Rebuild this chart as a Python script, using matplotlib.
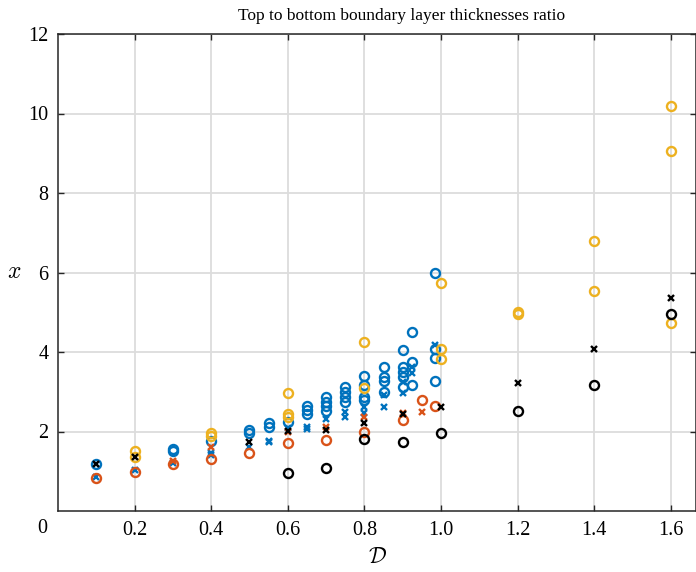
import matplotlib
matplotlib.use('Agg')
import matplotlib.pyplot as plt

# D values and thickness ratios for each run family
blue_o_x = [0.1, 0.3, 0.3, 0.4, 0.5, 0.5, 0.55, 0.55, 0.6,
            0.65, 0.65, 0.65, 0.7, 0.7, 0.7, 0.7, 0.75, 0.75, 0.75, 0.75,
            0.8, 0.8, 0.8, 0.8, 0.85, 0.85, 0.85, 0.85,
            0.9, 0.9, 0.9, 0.9, 0.9, 0.925, 0.925, 0.925,
            0.985, 0.985, 0.985, 0.985]
blue_o_y = [1.17, 1.56, 1.50, 1.76, 2.05, 1.96, 2.22, 2.12, 2.25,
            2.64, 2.54, 2.44, 2.88, 2.75, 2.64, 2.52, 3.11, 3.00, 2.88, 2.75,
            3.40, 3.17, 2.88, 2.78, 3.63, 3.38, 3.27, 3.00,
            4.05, 3.63, 3.50, 3.38, 3.13, 4.51, 3.74, 3.17,
            5.98, 4.08, 3.84, 3.28]

blue_x_x = [0.1, 0.1, 0.2, 0.3, 0.4, 0.4, 0.5, 0.55, 0.55, 0.6, 0.65, 0.65,
            0.7, 0.75, 0.75, 0.8, 0.8, 0.85, 0.85, 0.9, 0.9, 0.925, 0.925, 0.985]
blue_x_y = [1.17, 0.86, 1.02, 1.22, 1.46, 1.40, 1.62, 1.77, 1.74, 2.08, 2.12, 2.06,
            2.31, 2.50, 2.36, 2.62, 2.47, 2.92, 2.62, 3.25, 2.98, 3.63, 3.46, 4.18]

red_o_x = [0.1, 0.2, 0.3, 0.4, 0.5, 0.6, 0.7, 0.8, 0.9, 0.95, 0.985]
red_o_y = [0.84, 0.98, 1.17, 1.31, 1.47, 1.72, 1.79, 1.99, 2.29, 2.78, 2.65]

red_x_x = [0.3, 0.4, 0.6, 0.7, 0.8, 0.9, 0.95]
red_x_y = [1.27, 1.62, 2.00, 2.12, 2.37, 2.47, 2.50]

yel_o_x = [0.2, 0.2, 0.4, 0.4, 0.6, 0.6, 0.6, 0.8, 0.8,
           1.0, 1.0, 1.0, 1.2, 1.2, 1.4, 1.4, 1.6, 1.6, 1.6]
yel_o_y = [1.52, 1.35, 1.97, 1.89, 2.97, 2.44, 2.36, 4.26, 3.09,
           5.73, 4.08, 3.82, 5.01, 4.96, 6.79, 5.53, 10.19, 9.05, 4.74]

blk_x_x = [0.1, 0.2, 0.5, 0.6, 0.7, 0.8, 0.9, 1.0, 1.2, 1.4, 1.6]
blk_x_y = [1.17, 1.35, 1.74, 2.01, 2.05, 2.22, 2.43, 2.62, 3.23, 4.08, 5.36]

blk_o_x = [0.6, 0.7, 0.8, 0.9, 1.0, 1.2, 1.4, 1.6]
blk_o_y = [0.96, 1.07, 1.80, 1.74, 1.95, 2.52, 3.16, 4.96]

xticks = [0.2, 0.4, 0.6, 0.8, 1.0, 1.2, 1.4, 1.6]
yticks = [2, 4, 6, 8, 10, 12]

plt.rcParams['font.family'] = ['Liberation Serif', 'DejaVu Serif']
plt.rcParams['mathtext.fontset'] = 'cm'

fig = plt.figure(figsize=(6.96, 5.72), dpi=100)
ax = fig.add_axes([58 / 696, 61 / 572, 1 - 58 / 696, 477 / 572])

blue = '#0072BD'
red = '#D95319'
yellow = '#EDB120'

ring = dict(linestyle='none', marker='o', markersize=6.5, markerfacecolor='none',
            markeredgewidth=1.7)
cross = dict(linestyle='none', marker='x', markersize=4.4, markeredgewidth=1.7)

ax.plot(blue_o_x, blue_o_y, markeredgecolor=blue, **ring)
ax.plot(blue_x_x, blue_x_y, color=blue, **cross)
ax.plot(red_o_x, red_o_y, markeredgecolor=red, **ring)
ax.plot(red_x_x, red_x_y, color=red, **cross)
ax.plot(yel_o_x, yel_o_y, markeredgecolor=yellow, **ring)
ax.plot(blk_x_x, blk_x_y, color='black', **cross)
ax.plot(blk_o_x, blk_o_y, markeredgecolor='black', **ring)

ax.set_xlim(0, 1.666)
ax.set_ylim(0, 12)
ax.set_xticks(xticks)
ax.set_xticklabels([f'{t:.1f}' for t in xticks])
ax.set_yticks(yticks)
ax.tick_params(direction='in', length=4, width=1, top=True, right=True,
               labelsize=14.5, color='#262626', pad=7)
ax.grid(True, color='#dcdcdc', linewidth=1.3)
ax.set_axisbelow(True)
for sp in ax.spines.values():
    sp.set_color('#262626')
    sp.set_linewidth(1.1)

# single origin label shared by both axes
ax.text(-16 / 638, -8 / 477, '0', transform=ax.transAxes, ha='center', va='top',
        fontsize=14.5)
ax.set_title('Top to bottom boundary layer thicknesses ratio', fontsize=12.5,
             x=(402 - 58) / (696 - 58), pad=10)
ax.set_xlabel(r'$\mathcal{D}$', fontsize=16, labelpad=6)
ax.set_ylabel(r'$x$', fontsize=17, rotation=0, labelpad=10, va='center')

fig.savefig('out.png', dpi=100)
